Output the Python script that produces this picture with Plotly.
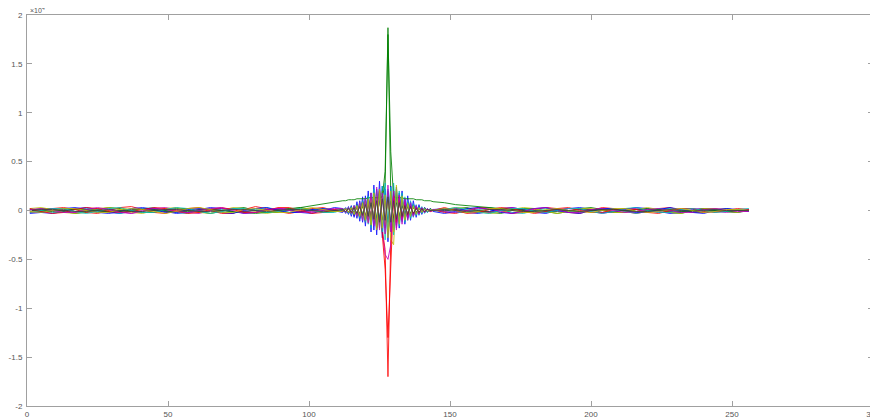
import plotly.graph_objects as go

# sample positions (index of the 256-point signals)
X = list(range(1, 110, 4)) + list(range(112, 145)) + list(range(148, 257, 4))

# values in units of 1e4 ; each series: 28 left samples, 33 centre samples, 28 right samples
s01 = [0.01,-0.02,-0.03,-0.01,0.02,0.03,0.01,-0.02,-0.03,0.00,0.02,0.02,-0.01,-0.03,
       -0.02,0.01,0.03,0.02,-0.01,-0.03,-0.02,0.01,0.02,0.01,-0.02,-0.03,0.00,0.03,
       0.02,-0.03,0.04,-0.06,0.05,-0.08,0.10,-0.12,0.15,-0.10,0.18,
       -0.20,0.22,-0.15,0.25,-0.18,0.20,-0.22,0.16,-0.12,0.18,-0.10,
       0.12,-0.08,0.09,-0.06,0.05,-0.04,0.03,-0.02,0.02,-0.01,0.01,
       0.02,0.01,-0.02,-0.03,-0.01,0.02,0.03,0.01,-0.02,-0.03,0.00,0.02,0.03,0.01,
       -0.02,-0.02,0.01,0.03,0.02,-0.01,-0.03,-0.02,0.01,0.02,0.01,-0.01,-0.02,0.00]
s02 = [0.00,0.02,0.02,-0.01,-0.03,-0.02,0.01,0.03,0.02,-0.01,-0.02,-0.02,0.01,0.02,
       0.02,-0.01,-0.03,-0.01,0.02,0.03,0.00,-0.02,-0.02,0.01,0.03,0.01,-0.02,-0.01,
       0.01,-0.02,0.03,-0.02,0.04,-0.05,0.06,-0.04,0.08,-0.06,0.10,
       -0.08,0.12,-0.10,0.15,0.25,1.87,0.15,-0.12,0.14,-0.08,0.10,
       -0.06,0.08,-0.05,0.06,-0.03,0.04,-0.02,0.03,-0.01,0.02,0.00,
       -0.01,0.02,0.03,0.00,-0.02,-0.03,0.00,0.02,0.02,-0.01,-0.03,-0.01,0.02,0.03,
       0.01,-0.02,-0.02,0.01,0.02,0.01,-0.02,-0.03,0.00,0.02,0.02,-0.01,-0.02,0.01]
s03 = [-0.02,-0.01,0.02,0.03,0.01,-0.02,-0.03,0.00,0.03,0.04,0.01,-0.02,-0.03,0.00,
       0.02,0.03,0.00,-0.03,-0.03,0.01,0.04,0.02,-0.01,-0.03,-0.01,0.02,0.03,0.00,
       0.01,0.02,-0.03,0.04,-0.05,0.06,-0.08,0.10,-0.12,0.14,-0.10,
       0.18,-0.15,0.22,-0.20,-0.40,-1.70,-0.30,0.20,-0.15,0.12,-0.10,
       0.08,-0.06,0.05,-0.04,0.03,-0.02,0.02,-0.01,0.01,0.00,0.01,
       -0.02,-0.03,0.00,0.03,0.03,0.00,-0.03,-0.02,0.01,0.03,0.02,-0.02,-0.03,0.00,
       0.03,0.02,-0.01,-0.03,-0.01,0.02,0.03,0.00,-0.02,-0.02,0.01,0.02,0.00,-0.01]
s04 = [0.02,0.00,-0.02,-0.02,0.01,0.02,0.01,-0.01,-0.03,-0.01,0.02,0.03,0.00,-0.02,
       -0.03,0.00,0.02,0.01,-0.02,-0.02,0.01,0.03,0.01,-0.02,-0.02,0.00,0.02,0.01,
       0.02,-0.02,0.03,-0.04,0.05,-0.06,0.08,-0.09,0.12,-0.14,0.16,
       -0.12,0.20,-0.18,0.25,-0.30,0.22,-0.20,0.28,-0.15,0.20,-0.12,
       0.14,-0.10,0.10,-0.07,0.06,-0.05,0.04,-0.03,0.02,-0.01,0.01,
       0.00,-0.02,-0.02,0.01,0.03,0.01,-0.02,-0.03,0.00,0.02,0.02,-0.01,-0.02,0.00,
       0.02,0.02,-0.01,-0.03,-0.01,0.02,0.02,0.00,-0.02,-0.01,0.01,0.02,0.00,-0.01]
s05 = [-0.01,0.01,0.02,0.00,-0.02,-0.01,0.02,0.02,-0.01,-0.03,-0.01,0.02,0.03,0.01,
       -0.02,-0.03,0.00,0.02,0.02,-0.01,-0.02,0.00,0.02,0.02,-0.01,-0.02,0.00,0.01,
       -0.01,0.02,-0.03,0.03,-0.05,0.06,-0.07,0.09,-0.10,0.12,-0.15,
       0.14,-0.20,0.18,-0.22,-0.45,-0.50,-0.35,0.20,-0.18,0.15,-0.10,
       0.10,-0.08,0.06,-0.05,0.04,-0.03,0.02,-0.02,0.01,-0.01,0.00,
       0.01,0.02,0.00,-0.02,-0.02,0.01,0.03,0.01,-0.02,-0.02,0.01,0.02,0.01,-0.01,
       -0.03,-0.01,0.02,0.02,0.00,-0.02,-0.02,0.01,0.02,0.01,-0.01,-0.02,0.00,0.01]
s06 = [0.02,0.03,0.01,-0.02,-0.03,-0.01,0.02,0.03,0.01,-0.02,-0.03,0.00,0.02,0.03,
       0.00,-0.02,-0.03,0.00,0.03,0.02,-0.01,-0.03,-0.01,0.02,0.02,0.00,-0.02,-0.01,
       0.01,-0.01,0.02,-0.03,0.04,-0.05,0.06,-0.08,0.10,-0.12,0.14,
       -0.10,0.15,-0.18,0.20,-0.15,0.10,-0.30,-0.35,0.18,-0.12,0.10,
       -0.08,0.06,-0.05,0.04,-0.03,0.03,-0.02,0.01,-0.01,0.01,0.00,
       0.01,0.03,0.02,-0.01,-0.03,-0.02,0.01,0.03,0.02,-0.01,-0.03,-0.01,0.02,0.02,
       0.00,-0.02,-0.02,0.01,0.03,0.01,-0.02,-0.03,0.00,0.02,0.02,-0.01,-0.02,0.00]
s07 = [0.00,-0.01,0.00,0.01,0.01,0.00,-0.01,-0.01,0.00,0.01,0.01,0.00,-0.01,-0.01,
       0.00,0.01,0.01,0.00,-0.01,-0.01,0.00,0.01,0.01,0.00,-0.01,0.00,0.01,0.00,
       0.00,0.01,-0.01,0.02,-0.02,0.03,-0.03,0.04,-0.05,0.06,-0.07,
       0.08,-0.08,0.10,-0.10,0.12,-0.12,0.10,-0.08,0.08,-0.06,0.05,
       -0.04,0.04,-0.03,0.03,-0.02,0.02,-0.01,0.01,-0.01,0.00,0.00,
       0.00,0.01,0.00,-0.01,-0.01,0.00,0.01,0.01,0.00,-0.01,-0.01,0.00,0.01,0.01,
       0.00,-0.01,0.00,0.01,0.01,0.00,-0.01,-0.01,0.00,0.01,0.00,-0.01,0.00,0.00]
s08 = [-0.03,-0.02,0.00,0.02,0.03,0.01,-0.02,-0.03,-0.01,0.02,0.03,0.01,-0.02,-0.02,
       0.01,0.02,0.01,-0.02,-0.03,0.00,0.02,0.03,0.00,-0.02,-0.02,0.01,0.02,0.00,
       -0.02,0.03,-0.04,0.05,-0.07,0.09,-0.11,0.14,-0.16,0.20,-0.22,
       0.26,-0.25,0.30,-0.28,0.22,-0.32,0.25,-0.20,0.24,-0.18,0.20,
       -0.14,0.15,-0.10,0.10,-0.07,0.06,-0.04,0.03,-0.02,0.02,-0.01,
       -0.03,-0.01,0.02,0.03,0.01,-0.02,-0.03,0.00,0.02,0.03,0.00,-0.02,-0.03,0.00,
       0.02,0.02,0.00,-0.02,-0.02,0.01,0.03,0.01,-0.02,-0.03,0.00,0.02,0.01,-0.01]
s09 = [0.01,0.00,-0.01,0.00,0.01,0.01,0.00,-0.01,-0.01,0.00,0.01,0.01,0.00,-0.01,
       -0.01,0.00,0.01,0.00,-0.01,-0.02,-0.03,-0.02,0.00,0.02,0.03,0.05,0.07,0.09,
       0.10,0.10,0.11,0.11,0.11,0.12,0.12,0.12,0.12,0.13,0.13,
       0.13,0.13,0.13,0.14,0.40,1.80,0.60,0.14,0.13,0.13,0.13,
       0.12,0.12,0.12,0.12,0.11,0.11,0.11,0.10,0.10,0.10,0.09,
       0.08,0.06,0.05,0.04,0.03,0.02,0.01,0.00,-0.01,0.00,0.01,0.00,-0.01,0.00,
       0.01,0.01,0.00,-0.01,0.00,0.01,0.00,-0.01,0.00,0.01,0.00,-0.01,0.00,0.00]
s10 = [0.02,-0.01,-0.03,-0.02,0.01,0.03,0.02,-0.01,-0.02,-0.01,0.01,0.03,0.02,-0.01,
       -0.03,-0.02,0.01,0.03,0.01,-0.02,-0.02,0.00,0.03,0.03,0.00,-0.03,-0.02,0.01,
       -0.01,0.02,-0.02,0.03,-0.04,0.05,-0.06,0.08,-0.10,0.12,-0.14,
       0.16,-0.18,0.20,-0.25,-0.60,-1.30,-0.50,0.15,-0.12,0.10,-0.08,
       0.06,-0.05,0.04,-0.03,0.03,-0.02,0.02,-0.01,0.01,-0.01,0.00,
       0.03,0.00,-0.03,-0.02,0.01,0.03,0.02,-0.01,-0.03,-0.01,0.02,0.03,0.00,-0.02,
       -0.02,0.01,0.02,0.01,-0.02,-0.03,0.00,0.02,0.02,-0.01,-0.02,0.00,0.02,0.01]
s11 = [-0.02,0.00,0.02,0.02,-0.01,-0.03,-0.01,0.02,0.03,0.00,-0.02,-0.02,0.01,0.03,
       0.02,-0.01,-0.03,-0.01,0.02,0.02,0.00,-0.02,-0.01,0.01,0.02,0.00,-0.02,-0.02,
       0.01,0.02,-0.03,0.04,-0.04,0.06,-0.08,0.10,-0.12,0.15,-0.18,
       0.22,-0.16,0.18,-0.22,0.28,-0.18,0.24,-0.25,0.22,-0.16,0.18,
       -0.12,0.10,-0.08,0.07,-0.05,0.04,-0.03,0.02,-0.02,0.01,0.00,
       0.01,0.03,0.01,-0.02,-0.03,0.00,0.02,0.02,-0.01,-0.02,0.00,0.02,0.02,-0.01,
       -0.03,-0.01,0.02,0.03,0.00,-0.02,-0.02,0.01,0.02,0.00,-0.02,-0.01,0.01,0.02]
s12 = [0.01,0.02,0.00,-0.02,-0.02,0.01,0.03,0.01,-0.02,-0.03,0.00,0.02,0.01,-0.01,
       -0.02,0.00,0.02,0.03,0.00,-0.03,-0.02,0.01,0.02,0.00,-0.02,-0.01,0.01,0.02,
       0.02,-0.02,0.03,-0.03,0.05,-0.06,0.08,-0.10,0.12,-0.13,0.18,
       -0.16,0.24,-0.20,0.18,-0.24,0.26,-0.22,0.20,-0.20,0.16,-0.14,
       0.12,-0.10,0.08,-0.06,0.05,-0.04,0.03,-0.02,0.02,-0.01,0.01,
       -0.01,-0.02,0.00,0.02,0.02,-0.01,-0.03,-0.01,0.02,0.03,0.01,-0.02,-0.02,0.01,
       0.02,0.00,-0.02,-0.01,0.01,0.02,0.00,-0.02,-0.02,0.01,0.02,0.01,-0.01,-0.01]
s13 = [-0.01,-0.02,0.00,0.02,0.02,0.00,-0.02,-0.02,0.01,0.02,0.01,-0.01,-0.03,-0.01,
       0.02,0.03,0.01,-0.02,-0.02,0.01,0.02,0.00,-0.02,-0.02,0.01,0.03,0.01,-0.01,
       -0.01,0.02,-0.02,0.03,-0.04,0.05,-0.06,0.08,-0.10,0.12,-0.15,
       0.18,-0.20,0.22,-0.18,0.16,-0.28,0.20,-0.22,0.26,-0.14,0.15,
       -0.10,0.08,-0.06,0.05,-0.04,0.03,-0.02,0.02,-0.01,0.01,0.00,
       0.02,0.00,-0.02,-0.01,0.02,0.02,0.00,-0.02,-0.02,0.01,0.02,0.00,-0.01,-0.02,
       0.00,0.02,0.02,-0.01,-0.02,-0.01,0.01,0.02,0.00,-0.02,-0.01,0.01,0.01,0.00]
s14 = [0.00,0.01,0.01,0.00,-0.01,-0.01,0.00,0.01,0.00,-0.01,-0.01,0.00,0.01,0.01,
       0.00,-0.01,-0.01,0.00,0.01,0.01,0.00,-0.01,0.00,0.01,0.01,0.00,-0.01,0.00,
       0.01,-0.01,0.02,-0.02,0.03,-0.03,0.04,-0.05,0.06,-0.06,0.08,
       -0.09,0.10,-0.12,0.12,-0.10,0.14,-0.12,0.10,-0.09,0.08,-0.06,
       0.05,-0.04,0.04,-0.03,0.02,-0.02,0.02,-0.01,0.01,0.00,0.00,
       0.01,0.00,-0.01,0.00,0.01,0.01,0.00,-0.01,-0.01,0.00,0.01,0.00,-0.01,0.00,
       0.01,0.01,0.00,-0.01,-0.01,0.00,0.01,0.00,-0.01,0.00,0.01,0.00,0.00,0.00]

SERIES = [s01, s02, s03, s04, s05, s06, s07, s08, s09, s10, s11, s12, s13, s14]
COLORS = ["#0000FF", "#008000", "#FF0000", "#00BFBF", "#BF00BF", "#BFBF00", "#404040"]

Y_TICKS = [-2, -1.5, -1, -0.5, 0, 0.5, 1, 1.5, 2]
Y_LABELS = ["-2", "-1.5", "-1", "-0.5", "0", "0.5", "1", "1.5", "2"]
X_TICKS = [0, 50, 100, 150, 200, 250, 300]

for i, s in enumerate(SERIES):
    if len(s) != len(X):
        raise ValueError(f"series {i+1} has {len(s)} values, expected {len(X)}")

fig = go.Figure()
for i, s in enumerate(SERIES):
    fig.add_trace(go.Scatter(x=X, y=s, mode="lines",
                             line=dict(color=COLORS[i % 7], width=1),
                             opacity=0.85, showlegend=False, hoverinfo="skip"))

axis_common = dict(showline=True, linecolor="#a0a0a0", linewidth=1, mirror="allticks",
                   ticks="inside", ticklen=5, tickcolor="#a0a0a0", showgrid=False,
                   zeroline=False, automargin=False, ticklabeloverflow="allow",
                   tickfont=dict(family="Liberation Sans", size=8, color="#555555"))

fig.update_xaxes(range=[0, 300], tickvals=X_TICKS, ticklabelstandoff=0, **axis_common)
fig.update_yaxes(range=[-2, 2], tickvals=Y_TICKS, ticktext=Y_LABELS, ticklabelstandoff=2,
                 **axis_common)

fig.add_annotation(text="×10<sup>4</sup>", xref="paper", yref="paper", x=0, y=1,
                   xanchor="left", yanchor="bottom", xshift=1, yshift=-1, showarrow=False,
                   font=dict(family="Liberation Sans", size=7, color="#555555"))

# page body has an 8px margin: figure is sized/margined so the plot frame lands at 27..873 x 15..406
fig.update_layout(width=870, height=409, margin=dict(l=19, r=5, t=7, b=11, autoexpand=False),
                  paper_bgcolor="white", plot_bgcolor="white")

fig.write_html("out.html")
